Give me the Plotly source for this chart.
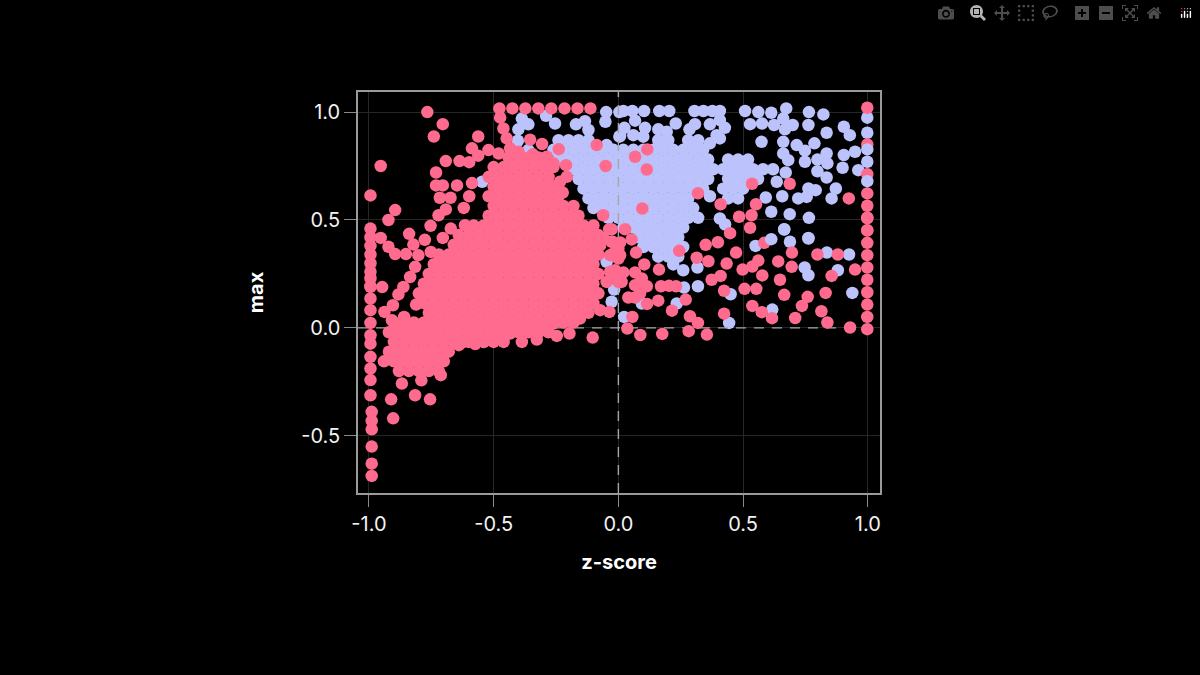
import plotly.graph_objects as go

BLUE = "#bcc2fb"
PINK = "#ff6b8e"

tick_vals = [-1.0, -0.5, 0.0, 0.5, 1.0]
x_tick_text = ["-1.0", "-0.5", "0.0", "0.5", "1.0"]
y_tick_text = ["-0.5", "0.0", "0.5", "1.0"]
y_tick_vals = [-0.5, 0.0, 0.5, 1.0]

# Saturated regions
pink_mass_y = [.79, .745, .70, .655, .61, .565, .52, .475, .43, .385, .34, .295, .25, .205, .16, .115, .07, .025,
               -.02, -.065, -.11, -.155, -.20]
pink_mass_x = [
 [-.44, -.40, -.36, -.32],
 [-.50, -.46, -.42, -.38, -.34, -.30, -.26],
 [-.52, -.48, -.44, -.40, -.36, -.32, -.28],
 [-.50, -.46, -.42, -.38, -.34, -.30, -.26],
 [-.52, -.48, -.44, -.40, -.36, -.32, -.28, -.24],
 [-.50, -.46, -.42, -.38, -.34, -.30, -.26, -.22, -.18],
 [-.52, -.48, -.44, -.40, -.36, -.32, -.28, -.24, -.20, -.16],
 [-.58, -.54, -.50, -.46, -.42, -.38, -.34, -.30, -.26, -.22, -.18, -.14, -.10],
 [-.64, -.60, -.56, -.52, -.48, -.44, -.40, -.36, -.32, -.28, -.24, -.20, -.16, -.12, -.08],
 [-.66, -.62, -.58, -.54, -.50, -.46, -.42, -.38, -.34, -.30, -.26, -.22, -.18, -.14, -.10],
 [-.72, -.68, -.64, -.60, -.56, -.52, -.48, -.44, -.40, -.36, -.32, -.28, -.24, -.20, -.16, -.12, -.08],
 [-.74, -.70, -.66, -.62, -.58, -.54, -.50, -.46, -.42, -.38, -.34, -.30, -.26, -.22, -.18, -.14, -.10],
 [-.76, -.72, -.68, -.64, -.60, -.56, -.52, -.48, -.44, -.40, -.36, -.32, -.28, -.24, -.20, -.16, -.12, -.08],
 [-.78, -.74, -.70, -.66, -.62, -.58, -.54, -.50, -.46, -.42, -.38, -.34, -.30, -.26, -.22, -.18, -.14, -.10],
 [-.80, -.76, -.72, -.68, -.64, -.60, -.56, -.52, -.48, -.44, -.40, -.36, -.32, -.28, -.24, -.20, -.16, -.12, -.08],
 [-.78, -.74, -.70, -.66, -.62, -.58, -.54, -.50, -.46, -.42, -.38, -.34, -.30, -.26, -.22, -.18, -.14, -.10],
 [-.76, -.72, -.68, -.64, -.60, -.56, -.52, -.48, -.44, -.40, -.36, -.32, -.28, -.24, -.20, -.16, -.12],
 [-.90, -.86, -.82, -.78, -.74, -.70, -.66, -.62, -.58, -.54, -.50, -.46, -.42, -.38, -.34, -.30, -.26, -.22, -.18],
 [-.92, -.88, -.84, -.80, -.76, -.72, -.68, -.64, -.60, -.56, -.52, -.48, -.44, -.40, -.36, -.32, -.28],
 [-.90, -.86, -.82, -.78, -.74, -.70, -.66, -.62, -.58, -.54, -.50, -.46],
 [-.92, -.88, -.84, -.80, -.76, -.72, -.68],
 [-.94, -.90, -.86, -.82, -.78, -.74, -.70],
 [-.88, -.84, -.80, -.76, -.72],
]

blue_mass_y = [.87, .825, .78, .735, .69, .645, .60, .555, .51, .465, .42, .375, .33]
blue_mass_x = [
 [-.24, -.20, -.16, -.12, .16, .20, .32, .28],
 [-.26, -.22, -.18, -.14, -.10, -.06, -.02, .02, .06, .10, .14, .18, .22, .26, .30, .34],
 [-.24, -.20, -.16, -.12, -.08, -.04, 0, .04, .08, .12, .16, .20, .24, .28, .32, .36, .44, .48, .52],
 [-.18, -.14, -.10, -.06, -.02, .02, .06, .10, .14, .18, .22, .26, .30, .34, .38, .42, .46, .50, .54, .58, .62],
 [-.16, -.12, -.08, -.04, 0, .04, .08, .12, .16, .20, .24, .28, .32, .36, .44, .48, .52, .56],
 [-.14, -.10, -.06, -.02, .02, .06, .10, .14, .18, .22, .26, .30, .34, .42, .46, .50],
 [-.12, -.08, -.04, 0, .04, .08, .12, .16, .20, .24, .28, .44, .48],
 [-.10, -.06, -.02, .02, .06, .10, .14, .18, .22, .26, .30],
 [-.04, 0, .04, .08, .12, .16, .20, .24, .28, .32],
 [.02, .06, .10, .14, .18, .22, .26],
 [.08, .12, .16, .20, .24],
 [.10, .14, .18, .22, .26],
 [.16, .20, .24],
]

# Individually readable points
blue_x = [.02, .056, .103, .164, .204, .305, .341, .377, .407, .508, .561, .613, .673, .764, .822,
          .528, .576, .624, .661, .699, .668, .762, .835, .904, .928, .574, .661, .715, .786, .748,
          .661, .681, .748, .798, .835, .838, .798, .835, .904, .949, .899, .962, .998, .998, .998,
          .635, .671, .872, .855, .791, .762, .755, .721, .657, .591, .367, .613, .687, .764, .407, .428,
          .665, .762, .067, .024, .107, .23, .16, .194, .307, .285, .367, .427, .407, .007, .06, .1, .394,
          .407, .367, .22, .26, .317, .263, .319, .234, .094, -.017, .023, .444, .45, .55, .665, .688,
          .762, .836, .925, .747, .762, .88, .938, .617, -.027, -.049, -.052, -.29, -.254, -.387, -.361,
          -.401, -.403, -.361, -.17, -.134, -.12, -.047, .004, -.546, .004, -.047]
blue_y = [1.005, 1.005, 1.005, 1.005, 1.005, 1.005, 1.005, 1.005, 1.005, 1.005, 1.0, .997, 1.017, 1.0, .989,
          .944, .947, .94, .97, .94, .92, .94, .904, .932, .893, .862, .862, .847, .855, .821,
          .808, .777, .77, .78, .808, .762, .726, .697, .801, .816, .742, .731, .904, .77, .974,
          .677, .72, .646, .6, .638, .646, .607, .6, .61, .604, .61, .538, .527, .51, .507, .479,
          .457, .414, .96, .927, .927, .947, .92, .909, .944, .92, .943, .927, .963, .889, .893, .886, .893,
          .878, .855, .294, .267, .28, .187, .193, .113, .113, .178, .051, .023, .156, .38, .456, .399,
          .417, .349, .34, .28, .244, .267, .162, .085, .121, 1.0, .955, .983, .947, .97, .943,
          .92, .867, .824, .943, .958, .917, .847, .886, .677, 1.0, .306]

blue_top_x = [.998, .998, .613]
blue_top_y = [.827, .68, .411]

pink_x = [-.477, -.425, -.373, -.321, -.269, -.216, -.164, -.112, -.766, -.704, -.740, -.562, -.953, -.994,
          -.895, -.922, -.994, -.994, -.994, -.994, -.994, -.994, -.994, -.994, -.953, -.922, -.895, -.852,
          -.839, -.822, -.802, -.776, -.753, -.752, -.947, -.721, -.692, -.62, -.598, -.716, -.673, -.731,
          -.704, -.647, -.587, -.731, -.692, -.637, -.598, -.587, -.562, -.521, -.48, -.474, -.461, -.448,
          -.434, -.4, -.354, -.306, -.239, -.343, -.287, -.26, -.21, -.207, -.223, -.234, -.087, -.051,
          -.061, -.037, -.672, -.615, -.704, -.815, -.835, -.862, -.882,
          -.994, -.994, -.994, -.994, -.994, -.994, -.994, -.994, -.994, -.994, -.989, -.989, -.989, -.989,
          -.989, -.989, -.903, -.911, -.815, -.755, -.868, -.79, -.712, -.904, -.938, -.811, -.859, -.908,
          -.387, -.327, -.247, -.196, -.103, -.477, -.434, -.036, -.073, -.154, -.194, -.26, -.314, -.387,
          -.574, -.60, -.54, -.52, -.64,
          .027, .053, .007, -.023, .071, .007, -.02, .104, .163, .244, .314, .361, .35, .399, .448, .472,
          .434, .41, .374, .424, .506, .553, .498, .537, .561, .577, .641, .695, .696, .648, .665, .585,
          .484, .534, .528, .798, .88, .949, .855, .831, .759, .736, .814, .838, .709, .616, .575, .537,
          .424, .287, .319, .282, .355, .176, .088, .036, .056, .215, .27, .16, .115, .171, .203, .231,
          .114, .067, .094, .067, .02, .013, -.02, .04, .087, .067, .929,
          .998, .998, .998, .998, .998, .998, .998, .998, .998, .998, .998, .998, .998, .998, .998, .998, .998,
          .116, .067, .114, .096, .319, .41, .536, .687, .924, .552, -.027,
          -.027, 0, -.033, 0, -.06, -.073, -.013, 0, -.047, -.033]
pink_y = [1.017, 1.017, 1.017, 1.017, 1.017, 1.017, 1.017, 1.017, 1.0, .944, .887, .887, .75, .614,
          .546, .5, .46, .42, .38, .34, .30, .26, .23, .19, .417, .376, .342, .342,
          .436, .386, .337, .408, .473, .352, .189, .522, .549, .556, .61, .603, .603, .66,
          .66, .66, .671, .72, .773, .773, .768, .832, .798, .824, .808, .974, .924, .878,
          .832, .816, .872, .852, .828, .804, .793, .762, .754, .70, .627, .677, .847, .75,
          .522, .457, .46, .476, .417, .283, .236, .19, .155,
          .193, .136, .082, .023, -.034, -.073, -.134, -.188, -.242, -.312, -.389, -.431, -.47, -.55,
          -.629, -.686, -.419, -.331, -.312, -.331, -.258, -.243, -.219, .105, .074, .108, .051, .036,
          -.065, -.054, -.037, -.026, -.045, -.049, -.026, .074, .082, .043, .028, .02, -.011, -.011,
          -.075, -.065, -.065, -.055, -.08,
          .457, .41, .396, .399, .349, .337, .345, .294, .27, .357, .325, .309, .385, .397, .439, .349,
          .298, .241, .223, .172, .181, .181, .27, .284, .312, .243, .308, .283, .349, .223, .153, .394,
          .515, .522, .464, .34, .34, .27, .241, .162, .144, .102, .077, .025, .046, .045, .073, .102,
          .066, .054, .023, -.015, -.031, -.028, -.033, -.003, .051, .08, .131, .126, .111, .193, .195, .193,
          .193, .198, .229, .257, .257, .213, .244, .141, .159, .141, .002,
          1.02, .85, .712, .623, .566, .508, .451, .394, .337, .28, .223, .165, .108, .051, -.006, .512, .453,
          .827, .793, .734, .553, .624, .573, .668, .668, .6, .573, .457,
          .399, .368, .337, .321, .414, .383, .267, .213, .213, .26]

zero_line_x = [-1.044, 1.049]
zero_line_y = [-.765, 1.093]
line_zero = [0, 0]


def expand(rows_y, rows_x):
    xs, ys = [], []
    for y, row in zip(rows_y, rows_x):
        for x in row:
            xs.append(x)
            ys.append(y)
    return xs, ys


bmx, bmy = expand(blue_mass_y, blue_mass_x)
pmx, pmy = expand(pink_mass_y, pink_mass_x)

fig = go.Figure()
marker_size = 12.5


def dots(x, y, color):
    fig.add_trace(go.Scatter(x=x, y=y, mode="markers", showlegend=False, hoverinfo="skip",
                             marker=dict(color=color, size=marker_size, line=dict(width=0))))


def dashed(x, y):
    fig.add_trace(go.Scatter(x=x, y=y, mode="lines", showlegend=False, hoverinfo="skip",
                             line=dict(color="#a6a6a6", width=1.4, dash="10px,8px")))


dots(blue_x + bmx, blue_y + bmy, BLUE)
dashed(line_zero, zero_line_y)
dashed(zero_line_x, line_zero)
dots(pink_x + pmx, pink_y + pmy, PINK)
dots(blue_top_x, blue_top_y, BLUE)

axis_font = dict(family="Inter, Roboto, sans-serif", size=20, color="#f2f2f2")
title_font = dict(family="Inter, Roboto, sans-serif", size=20, color="#ffffff", weight=700)

common = dict(showgrid=True, gridcolor="#262626", gridwidth=1, zeroline=False, showline=True,
              linecolor="#9a9a9a", linewidth=1.5, mirror=True, ticks="outside", ticklen=12,
              tickcolor="#8a8a8a", tickwidth=1, tickfont=axis_font, tickmode="array")

fig.update_xaxes(range=[-1.044, 1.049], tickvals=tick_vals, ticktext=x_tick_text,
                 title=dict(text="z-score", font=title_font, standoff=20), **common)
fig.update_yaxes(range=[-.765, 1.093], tickvals=y_tick_vals, ticktext=y_tick_text,
                 title=dict(text="max", font=title_font, standoff=32), **common)

fig.update_layout(width=1200, height=675, paper_bgcolor="#000000", plot_bgcolor="#000000",
                  margin=dict(l=358, r=320, t=92, b=182), showlegend=False)

fig.write_html("out.html", post_script="document.body.style.margin='0';document.body.style.background='#000';")
